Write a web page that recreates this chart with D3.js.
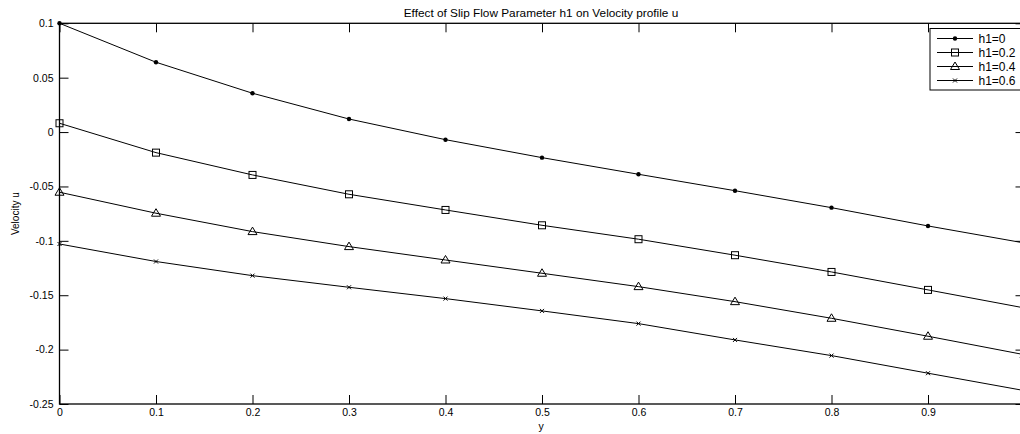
<!DOCTYPE html>
<html><head><meta charset="utf-8">
<script src="https://cdn.jsdelivr.net/npm/d3@7"></script>
<style>
html,body{margin:0;padding:0;background:#fff;overflow:hidden}
text{font-family:"Liberation Sans",Arial,Helvetica,sans-serif;fill:#000}
</style></head><body>
<svg id="c" width="1020" height="434"></svg>
<script>
const xValues = [0,0.1,0.2,0.3,0.4,0.5,0.6,0.7,0.8,0.9,1.0];
const seriesNames = ["h1=0","h1=0.2","h1=0.4","h1=0.6"];
const seriesMarkers = ["dot","square","triangle","cross"];
const u_h0   = [0.1000, 0.0642, 0.0357, 0.0120, -0.0070, -0.0235, -0.0388, -0.0539, -0.0695, -0.0863, -0.1020];
const u_h02  = [0.0081, -0.0189, -0.0394, -0.0572, -0.0716, -0.0857, -0.0985, -0.1132, -0.1286, -0.1451, -0.1617];
const u_h04  = [-0.0553, -0.0746, -0.0915, -0.1053, -0.1176, -0.1298, -0.1421, -0.1559, -0.1712, -0.1877, -0.2047];
const u_h06  = [-0.1029, -0.1190, -0.1320, -0.1427, -0.1531, -0.1644, -0.1761, -0.1911, -0.2055, -0.2217, -0.2377];
const seriesValues = [u_h0,u_h02,u_h04,u_h06];
const xTicks = [0,0.1,0.2,0.3,0.4,0.5,0.6,0.7,0.8,0.9];
const yTicks = [0.1,0.05,0,-0.05,-0.1,-0.15,-0.2,-0.25];
const title = "Effect of Slip Flow Parameter h1 on Velocity profile u";
const xLabel = "y";
const yLabel = "Velocity u";

const L=59.5, R=1024.5, T=23.3, B=404;
const svg = d3.select("#c");
const x = d3.scaleLinear().domain([0,1]).range([L,R]);
const y = d3.scaleLinear().domain([-0.25,0.1]).range([B,T]);
const fmt = d => (d===0?"0":String(d));

// axes
const tk = 9;
svg.append("g").attr("transform",`translate(0,${B})`)
  .call(d3.axisBottom(x).tickValues(xTicks).tickSizeInner(-tk).tickSizeOuter(0).tickPadding(5).tickFormat(fmt))
  .call(g=>{g.select(".domain").remove();g.selectAll("text").style("font-size","10.5px").attr("dy","0.71em");});
svg.append("g").attr("transform",`translate(0,${T})`)
  .call(d3.axisTop(x).tickValues(xTicks).tickSizeInner(-tk).tickSizeOuter(0).tickFormat(""))
  .call(g=>g.select(".domain").remove());
svg.append("g").attr("transform",`translate(${L},0)`)
  .call(d3.axisLeft(y).tickValues(yTicks).tickSizeInner(-tk).tickSizeOuter(0).tickPadding(6).tickFormat(fmt))
  .call(g=>{g.select(".domain").remove();g.selectAll("text").style("font-size","10.5px");});
svg.append("g").attr("transform",`translate(${R},0)`)
  .call(d3.axisRight(y).tickValues(yTicks).tickSizeInner(-tk).tickSizeOuter(0).tickFormat(""))
  .call(g=>g.select(".domain").remove());
svg.selectAll(".tick line").attr("stroke","#000").attr("stroke-width",1);
svg.append("rect").attr("x",L).attr("y",T).attr("width",R-L).attr("height",B-T)
  .attr("fill","none").attr("stroke","#000").attr("stroke-width",1.3);

// lines and markers
const line = d3.line().x((d,i)=>x(xValues[i])).y(d=>y(d));
function drawMarker(g,type,cx,cy){
  if(type==="dot") g.append("circle").attr("cx",cx).attr("cy",cy).attr("r",2.2).attr("fill","#000");
  else if(type==="square") g.append("rect").attr("x",cx-3.5).attr("y",cy-3.5).attr("width",7).attr("height",7).attr("fill","none").attr("stroke","#000").attr("stroke-width",1);
  else if(type==="triangle") g.append("path").attr("d",`M${cx},${cy-4.5}L${cx+4.5},${cy+3}L${cx-4.5},${cy+3}Z`).attr("fill","none").attr("stroke","#000").attr("stroke-width",1);
  else g.append("path").attr("d",`M${cx-2},${cy-2}L${cx+2},${cy+2}M${cx-2},${cy+2}L${cx+2},${cy-2}`).attr("stroke","#000").attr("stroke-width",1);
}
seriesValues.forEach((vals,si)=>{
  svg.append("path").datum(vals).attr("d",line).attr("fill","none").attr("stroke","#000").attr("stroke-width",1);
  const g = svg.append("g");
  vals.forEach((v,i)=>drawMarker(g,seriesMarkers[si],x(xValues[i]),y(v)));
});

// title and labels
svg.append("text").attr("x",(L+R)/2-1).attr("y",17).attr("text-anchor","middle").style("font-size","11.8px").text(title);
svg.append("text").attr("x",(L+R)/2-1).attr("y",430).attr("text-anchor","middle").style("font-size","10.5px").text(xLabel);
svg.append("text").attr("transform",`translate(18.5,${(T+B)/2}) rotate(-90)`).attr("text-anchor","middle").style("font-size","10px").text(yLabel);

// legend
const lg = svg.append("g");
lg.append("rect").attr("x",930).attr("y",28.5).attr("width",100).attr("height",61.5).attr("fill","#fff").attr("stroke","#000").attr("stroke-width",1);
seriesNames.forEach((n,i)=>{
  const yy = 38.5 + i*14;
  lg.append("line").attr("x1",937).attr("x2",973).attr("y1",yy).attr("y2",yy).attr("stroke","#000").attr("stroke-width",1);
  drawMarker(lg,seriesMarkers[i],955,yy);
  lg.append("text").attr("x",978.5).attr("y",yy).attr("dy","0.35em").style("font-size","12px").text(n);
});
</script>
</body></html>
